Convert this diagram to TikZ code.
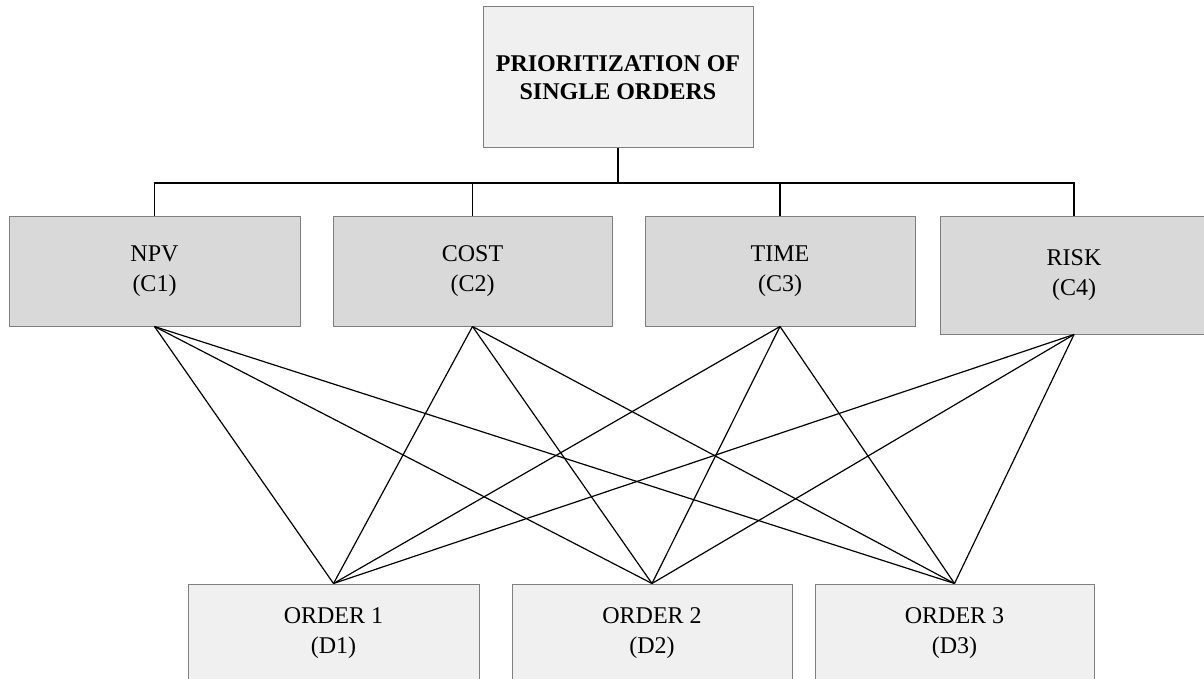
\documentclass[tikz,border=0pt]{standalone}
\usepackage{fontspec}
\setmainfont{Liberation Serif}
\definecolor{lightbox}{HTML}{F0F0F0}
\definecolor{midbox}{HTML}{D9D9D9}
\definecolor{boxline}{HTML}{7F7F7F}
\tikzset{
  basebox/.style={draw=boxline, line width=1pt, inner sep=0pt, align=center,
    font=\fontsize{24}{30}\selectfont},
  topbox/.style={basebox, fill=lightbox, font=\fontsize{24}{28}\selectfont\bfseries},
  critbox/.style={basebox, fill=midbox},
  orderbox/.style={basebox, fill=lightbox},
  link/.style={draw=black, line width=1.2pt},
}
\begin{document}
\begin{tikzpicture}[x=1pt,y=-1pt]
\useasboundingbox (0,0) rectangle (1204,679);
\clip (0,0) rectangle (1204,679);
\node[topbox, minimum width=270pt, minimum height=141pt] (top) at (618,77.5) {PRIORITIZATION OF\\SINGLE ORDERS};
\node[critbox, minimum width=291pt, minimum height=110pt] (C1) at (154.5,271) {NPV\\(C1)};
\node[critbox, minimum width=279pt, minimum height=110pt] (C2) at (472.5,271) {COST\\(C2)};
\node[critbox, minimum width=270pt, minimum height=110pt] (C3) at (780,271) {TIME\\(C3)};
\node[critbox, minimum width=268pt, minimum height=118pt] (C4) at (1074,275) {RISK\\(C4)};
\node[orderbox, minimum width=291pt, minimum height=98pt] (D1) at (333.5,633) {ORDER 1\\(D1)};
\node[orderbox, minimum width=280pt, minimum height=98pt] (D2) at (652,633) {ORDER 2\\(D2)};
\node[orderbox, minimum width=279pt, minimum height=98pt] (D3) at (954.5,633) {ORDER 3\\(D3)};
\coordinate (bus) at (0,183);
\draw[link] (top.south) -- (top.south |- bus);
\draw[link] (C1.north) -- (C1.north |- bus) -| (C4.north);
\draw[link] (C2.north) -- (C2.north |- bus);
\draw[link] (C3.north) -- (C3.north |- bus);
\foreach \i in {1,2,3,4}{
  \foreach \j in {1,2,3}{
    \draw[link] (C\i.south) -- (D\j.north);
  }
}
\end{tikzpicture}
\end{document}
